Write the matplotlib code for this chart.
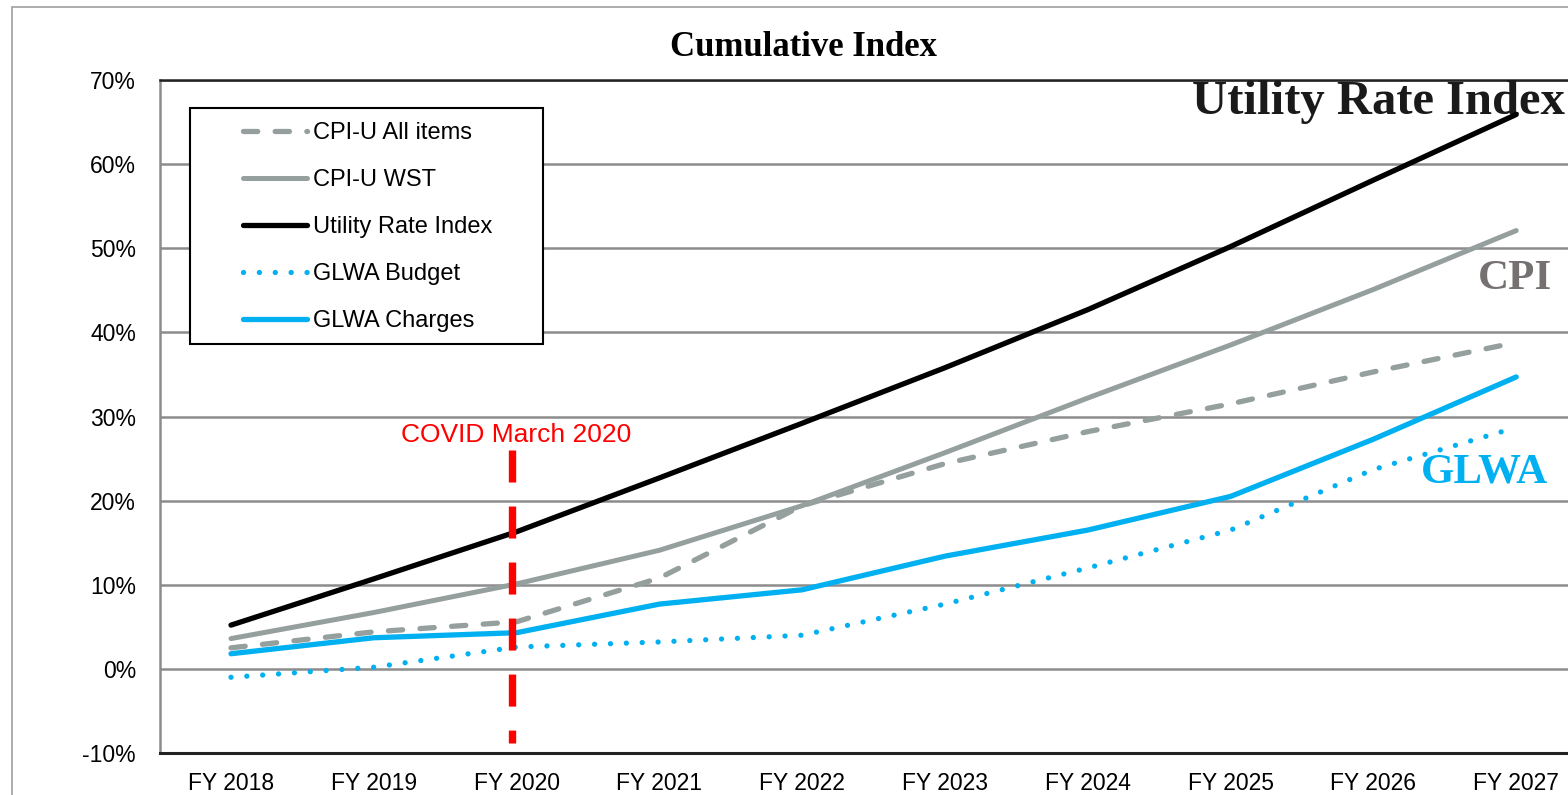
import matplotlib
matplotlib.use('Agg')
import matplotlib.pyplot as plt
from matplotlib.patches import Rectangle

years = ['FY 2018', 'FY 2019', 'FY 2020', 'FY 2021', 'FY 2022',
         'FY 2023', 'FY 2024', 'FY 2025', 'FY 2026', 'FY 2027']
cpi_all = [2.5, 4.4, 5.6, 10.8, 19.4, 24.4, 28.2, 31.5, 35.3, 38.8]
cpi_wst = [3.6, 6.7, 10.1, 14.1, 19.4, 25.7, 32.2, 38.5, 45.1, 52.1]
utility = [5.2, 10.7, 16.3, 22.7, 29.2, 35.8, 42.7, 50.2, 58.1, 65.9]
glwa_budget = [-1.0, 0.2, 2.6, 3.2, 4.0, 7.7, 12.0, 16.5, 23.7, 28.7]
glwa_charges = [1.8, 3.7, 4.3, 7.7, 9.4, 13.4, 16.5, 20.5, 27.3, 34.7]
yticks = [-10, 0, 10, 20, 30, 40, 50, 60, 70]

W, H = 1568, 795
GRAY = '#95A09E'
BLUE = '#00B0F0'
sans = ['Liberation Sans', 'DejaVu Sans']
narrow = ['Liberation Sans Narrow', 'Liberation Sans', 'DejaVu Sans']
serif = ['Liberation Serif', 'DejaVu Serif']

fig = plt.figure(figsize=(W / 100, H / 100), dpi=100)
ax = fig.add_axes([159.6 / W, 42 / H, 1428 / W, 673 / H])

x = list(range(len(years)))
ax.plot(x, cpi_all, color=GRAY, lw=3.8, dashes=(2.7, 3.3), dash_capstyle='round',
        solid_capstyle='round', label='CPI-U All items', zorder=3)
ax.plot(x, cpi_wst, color=GRAY, lw=3.6, solid_capstyle='round', label='CPI-U WST', zorder=3)
ax.plot(x, utility, color='black', lw=3.8, solid_capstyle='round', label='Utility Rate Index', zorder=4)
ax.plot(x, glwa_budget, color=BLUE, lw=3.8, linestyle=(0, (0.01, 3.0)), dash_capstyle='round',
        label='GLWA Budget', zorder=3)
ax.plot(x, glwa_charges, color=BLUE, lw=3.8, solid_capstyle='round', label='GLWA Charges', zorder=3)

# COVID marker
ax.plot([1.97, 1.97], [26, -8.8], color='red', lw=5.3, dashes=(4.35, 3.26), zorder=5)
ax.text(2.0, 27.8, 'COVID March 2020', color='red', fontsize=19, family=sans,
        ha='center', va='center')

ax.set_xlim(-0.5, 9.5)
ax.set_ylim(-10, 70)
ax.set_xticks(x)
ax.set_xticklabels(years)
ax.set_yticks(yticks)
ax.set_yticklabels(['%d%%' % v for v in yticks])
ax.tick_params(length=0, labelsize=16.5)
ax.tick_params(axis='x', pad=14)
ax.tick_params(axis='y', pad=17)
for lab in ax.get_xticklabels() + ax.get_yticklabels():
    lab.set_family(narrow)
ax.grid(axis='y', color='#8C8C8C', lw=1.8, zorder=1)
ax.spines['right'].set_visible(False)
ax.spines['left'].set_color('#8C8C8C')
ax.spines['left'].set_linewidth(1.8)
ax.spines['top'].set_color('#222222')
ax.spines['top'].set_linewidth(1.8)
ax.spines['bottom'].set_color('#222222')
ax.spines['bottom'].set_linewidth(2.2)

# series labels
ax.text(6.73, 67.4, 'Utility Rate Index', color='#1A1A1A', fontsize=35, fontweight='bold',
        family=serif, ha='left', va='center', clip_on=False)
ax.text(8.73, 46.3, 'CPI', color='#767171', fontsize=31, fontweight='bold',
        family=serif, ha='left', va='center')
ax.text(8.33, 23.3, 'GLWA', color=BLUE, fontsize=31, fontweight='bold',
        family=serif, ha='left', va='center')

fig.text(803 / W, 1 - 47 / H, 'Cumulative Index', fontsize=25, fontweight='bold',
         family=serif, ha='center', va='center')

# legend with its own frame
leg = ax.legend(loc='upper left', bbox_to_anchor=(243 / W, 1 - 122 / H),
                bbox_transform=fig.transFigure, frameon=False, prop={'family': sans, 'size': 17},
                handlelength=2.7, handletextpad=0.25, labelspacing=1.06, borderaxespad=0,
                borderpad=0)
leg.set_zorder(10)
fig.patches.append(Rectangle((190 / W, 1 - 344 / H), 353 / W, 236 / H, transform=fig.transFigure,
                             facecolor='white', edgecolor='black', lw=1.5, zorder=9))
leg.remove()
fig.add_artist(leg)

# outer chart border
fig.patches.append(Rectangle((12 / W, -0.1), 1.2, 1 - 7 / H + 0.1, transform=fig.transFigure,
                             facecolor='none', edgecolor='#A0A0A0', lw=1.2))

fig.savefig('out.png', dpi=100)
